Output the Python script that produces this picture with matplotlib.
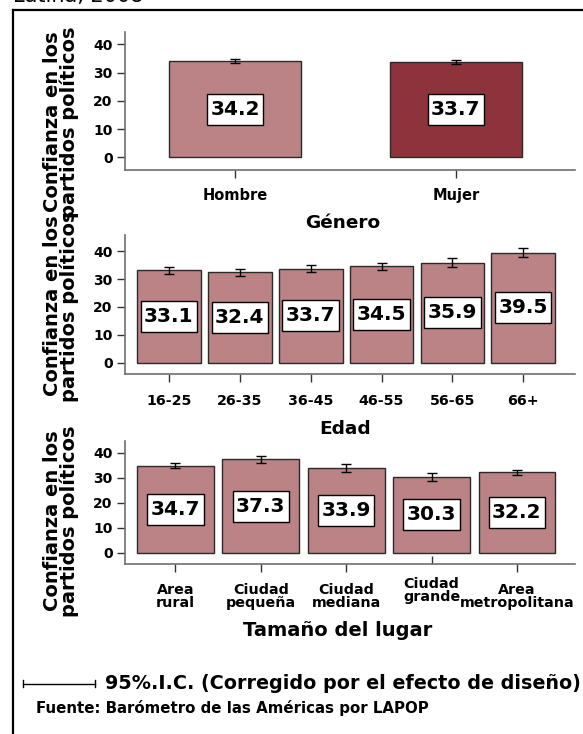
import matplotlib
matplotlib.use("Agg")
import matplotlib.pyplot as plt
import matplotlib.lines as mlines
from matplotlib.path import Path
from matplotlib.transforms import ScaledTranslation

plt.rcParams['font.family'] = ['DejaVu Sans']
plt.rcParams['font.weight'] = 'bold'

# ---- data ----
genero_cats = ["Hombre", "Mujer"]
genero_vals = [34.2, 33.7]
genero_err = [0.75, 0.7]

edad_cats = ["16-25", "26-35", "36-45", "46-55", "56-65", "66+"]
edad_vals = [33.1, 32.4, 33.7, 34.5, 35.9, 39.5]
edad_err = [1.2, 1.25, 1.25, 1.25, 1.5, 1.6]

lugar_cats = ["Area\nrural", "Ciudad\npequeña", "Ciudad\nmediana", "Ciudad\ngrande", "Area\nmetropolitana"]
lugar_vals = [34.7, 37.3, 33.9, 30.3, 32.2]
lugar_err = [1.0, 1.3, 1.5, 1.7, 1.0]

yticks = [0, 10, 20, 30, 40]
ylabel_txt = "Confianza en los\npartidos políticos"

W, H = 583, 734
fig = plt.figure(figsize=(W / 100, H / 100), dpi=100)

LIGHT = "#BC8386"
DARK = "#8E333C"
SPINE = "#6E6E6E"


def value_box(x0, y0, width, height, mutation_size):
    padx = 0.17 * mutation_size
    pady = 0.30 * mutation_size
    xa, xb = x0 - padx, x0 + width + padx
    ya, yb = y0 - pady, y0 + height + pady
    return Path([(xa, ya), (xb, ya), (xb, yb), (xa, yb), (xa, ya)], closed=True)


def px_axes(x0, y0, x1, y1):
    return fig.add_axes([x0 / W, 1 - y1 / H, (x1 - x0) / W, (y1 - y0) / H])


def style_axes(ax, cats, vals, errs, colors, width, xlim, ylim, xpad, xfs):
    x = list(range(len(cats)))
    ax.bar(x, vals, width=width, color=colors, edgecolor="#2a2a2a", linewidth=1.0, zorder=2)
    ax.errorbar(x, vals, yerr=errs, fmt="none", ecolor="black", elinewidth=1.0,
                capsize=3.8, capthick=1.0, zorder=3)
    for xi, v in zip(x, vals):
        ax.text(xi, v / 2, f"{v:.1f}", ha="center", va="center", fontsize=14.5,
                fontweight="bold", zorder=4,
                bbox=dict(boxstyle=value_box, facecolor="white",
                          edgecolor="black", linewidth=1.0))
    ax.set_xlim(*xlim)
    ax.set_ylim(*ylim)
    ax.set_yticks(yticks)
    ax.set_xticks(x)
    ax.set_xticklabels(cats, fontsize=xfs, fontweight="bold", linespacing=0.95)
    ax.set_yticklabels([str(t) for t in yticks], fontsize=10, fontweight="bold")
    for s in ["top", "right"]:
        ax.spines[s].set_visible(False)
    for s in ["left", "bottom"]:
        ax.spines[s].set_color(SPINE)
        ax.spines[s].set_linewidth(1.2)
    ax.tick_params(axis="y", length=6, width=1.0, color="#333333", pad=3)
    ax.tick_params(axis="x", length=6, width=1.0, color="#333333", pad=xpad)
    ax.patch.set_alpha(0)


# Panel 1: Género
ax1 = px_axes(125, 31.7, 575, 170)
style_axes(ax1, genero_cats, genero_vals, genero_err, [LIGHT, DARK], 0.6,
           (-0.5, 1.54), (-4.45, 44.5), 7, 10.5)

# Panel 2: Edad
ax2 = px_axes(125, 235, 575, 374.3)
style_axes(ax2, edad_cats, edad_vals, edad_err, [LIGHT] * len(edad_cats), 0.9,
           (-0.62, 5.73), (-4.2, 45.8), 8, 10.3)

# Panel 3: Tamaño del lugar
ax3 = px_axes(125, 440.7, 575, 564)
style_axes(ax3, lugar_cats, lugar_vals, lugar_err, [LIGHT] * len(lugar_cats), 0.9,
           (-0.59, 4.68), (-4.5, 44.8), 7.5, 10.3)

# Raised "Ciudad grande" label and inward tick
lbl = ax3.get_xticklabels()[3]
lbl.set_transform(lbl.get_transform() + ScaledTranslation(0, 6 / 100, fig.dpi_scale_trans))
ax3.xaxis.get_major_ticks()[3].tick1line.set_marker(mlines.TICKUP)

# y labels (two lines, rotated)
for yc in [122, 306, 521]:
    fig.text(61 / W, 1 - yc / H, ylabel_txt, rotation=90, ha="center", va="center",
             fontsize=14, fontweight="bold", linespacing=0.9, multialignment="center")

# x labels
fig.text(343 / W, 1 - 222.7 / H, "Género", ha="center", va="center", fontsize=13.3, fontweight="bold")
fig.text(345 / W, 1 - 429.3 / H, "Edad", ha="center", va="center", fontsize=13.3, fontweight="bold")
fig.text(338 / W, 1 - 630 / H, "Tamaño del lugar", ha="center", va="center", fontsize=14, fontweight="bold")

# CI legend
ly = 1 - 683.5 / H
fig.add_artist(mlines.Line2D([22.7 / W, 95 / W], [ly, ly], color="black", linewidth=1.0))
for xe in [22.7, 95]:
    fig.add_artist(mlines.Line2D([xe / W, xe / W], [ly - 3.2 / H, ly + 3.2 / H], color="black", linewidth=1.0))
fig.text(105 / W, ly, "95%.I.C. (Corregido por el efecto de diseño)", ha="left", va="center",
         fontsize=13.8, fontweight="bold")
fig.text(36 / W, 1 - 708 / H, "Fuente: Barómetro de las Américas por LAPOP", ha="left", va="center",
         fontsize=10.8, fontweight="bold")

# outer frame (left and top)
fig.add_artist(mlines.Line2D([13 / W, 13 / W], [0, 1 - 10 / H], color="black", linewidth=1.6))
fig.add_artist(mlines.Line2D([13 / W, 1.0], [1 - 10 / H, 1 - 10 / H], color="black", linewidth=1.6))

# clipped title text at very top
fig.text(13 / W, 1 - 1.5 / H, "Latina, 2008", ha="left", va="baseline", fontsize=15, fontweight="normal")

fig.savefig("out.png", dpi=100)
